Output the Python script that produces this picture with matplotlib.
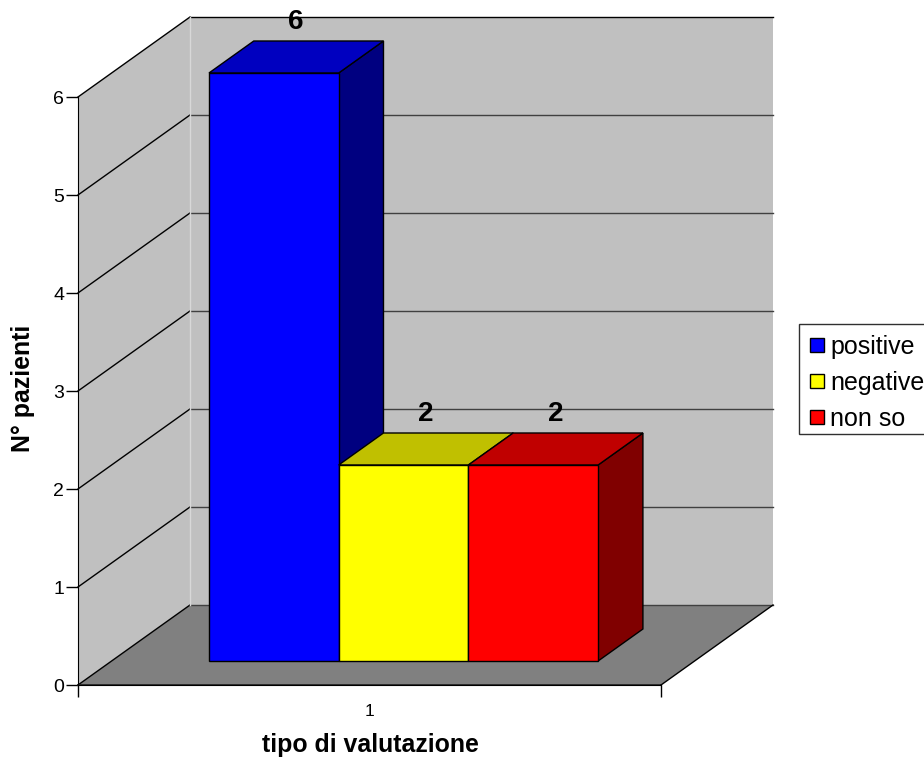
import matplotlib
matplotlib.use("Agg")
import matplotlib.pyplot as plt
from matplotlib.lines import Line2D
from matplotlib.patches import Polygon, Rectangle

plt.rcParams["font.family"] = ["Liberation Sans", "DejaVu Sans"]

# dati del grafico
categorie = ["positive", "negative", "non so"]
valori = [6, 2, 2]
colori_front = ["#0000ff", "#ffff00", "#ff0000"]
colori_top = ["#0000c0", "#c0c000", "#c00000"]
colori_side = ["#000080", "#808000", "#800000"]
y_ticks = [0, 1, 2, 3, 4, 5, 6]

# vettore di profondita' in unita' dati
DX = 112 / 583
DY = 80 / 98
Z_FRONT = 0.30
Z_BACK = 0.70
GAP = 0.167
LARGH = 0.2225


def proj(x, y, z=0):
    return (x + z * DX, y + z * DY)


def faccia(ax, punti, colore, lw=1.0, ec="black", zorder=3):
    ax.add_patch(Polygon([proj(*p) for p in punti], closed=True, fc=colore,
                         ec=ec, lw=lw, joinstyle="miter", zorder=zorder))


fig = plt.figure(figsize=(9.24, 7.63), dpi=100)
ax = fig.add_axes([0, 0, 1, 1])
ax.set_xlim(-78 / 583, (924 - 78) / 583)
ax.set_ylim((685 - 763) / 98, 685 / 98)

# pareti e pavimento
faccia(ax, [(0, 0, 0), (0, 0, 1), (0, 6, 1), (0, 6, 0)], "#c0c0c0", ec="none", zorder=1)
faccia(ax, [(0, 0, 1), (1, 0, 1), (1, 6, 1), (0, 6, 1)], "#c0c0c0", ec="none", zorder=1)
faccia(ax, [(0, 0, 0), (1, 0, 0), (1, 0, 1), (0, 0, 1)], "#808080", ec="none", zorder=1)

# griglia sulle pareti
for v in y_ticks:
    xa, ya = proj(0, v, 0)
    xb, yb = proj(0, v, 1)
    xc, yc = proj(1, v, 1)
    ax.plot([xa, xb], [ya, yb], color="black", lw=1.0, zorder=2)
    ax.plot([xb, xc], [yb, yc], color="black" if v == 6 else "#404040", lw=1.0, zorder=2)

# bordi del pavimento
xa, ya = proj(1, 0, 0)
xb, yb = proj(1, 0, 1)
ax.plot([0, 1], [0, 0], color="#202020", lw=1.2, zorder=2)
ax.plot([xa, xb], [ya, yb], color="black", lw=1.0, zorder=2)
xa, ya = proj(0, 0, 1)
ax.plot([xa, xa], [ya, proj(0, 6, 1)[1]], color="#d8d8d8", lw=1.0, zorder=2)

# barre 3D
for i, val in enumerate(valori):
    x0 = GAP + i * LARGH
    x1 = x0 + LARGH
    faccia(ax, [(x1, 0, Z_FRONT), (x1, 0, Z_BACK), (x1, val, Z_BACK), (x1, val, Z_FRONT)],
           colori_side[i], zorder=3 + i)
    faccia(ax, [(x0, val, Z_FRONT), (x1, val, Z_FRONT), (x1, val, Z_BACK), (x0, val, Z_BACK)],
           colori_top[i], zorder=3 + i)
    faccia(ax, [(x0, 0, Z_FRONT), (x1, 0, Z_FRONT), (x1, val, Z_FRONT), (x0, val, Z_FRONT)],
           colori_front[i], zorder=3 + i)
    cx, cy = proj((x0 + x1) / 2, val, Z_BACK)
    ax.annotate(str(val), (cx - 0.5 * DX * (Z_BACK - Z_FRONT), cy), xytext=(0, 13.5),
                textcoords="offset points", ha="center", va="center",
                fontsize=20, fontweight="bold", zorder=10)

# assi
for s in ["top", "right"]:
    ax.spines[s].set_visible(False)
ax.spines["left"].set_position(("data", 0))
ax.spines["left"].set_bounds(0, 6)
ax.spines["bottom"].set_position(("data", 0))
ax.spines["bottom"].set_bounds(0, 1)
ax.spines["left"].set_zorder(2)
ax.spines["bottom"].set_zorder(2)
ax.set_yticks(y_ticks)
ax.tick_params(axis="y", direction="out", length=8.5, width=1.0, pad=1.5, labelsize=14)
ax.set_xticks([0, 1])
ax.set_xticklabels(["", ""])
ax.tick_params(axis="x", direction="out", length=8.5, width=1.0)
ax.set_xticks([0.5], minor=True)
ax.set_xticklabels(["1"], minor=True)
ax.tick_params(axis="x", which="minor", length=0, pad=14, labelsize=12.5)

fig.text(370 / 924, 1 - 745 / 763, "tipo di valutazione", ha="center", va="center",
         fontsize=17.9, fontweight="bold")
fig.text(23 / 924, 1 - 388 / 763, "N° pazienti", ha="center", va="center", rotation=90,
         fontsize=17.9, fontweight="bold")

# riquadro della legenda, il bordo destro esce dalla figura
fig.add_artist(Rectangle((798.5 / 924, 1 - 434 / 763), 130 / 924, 110 / 763, fc="white",
                         ec="#303030", lw=1.0, transform=fig.transFigure, zorder=5))

# legenda
handles = [Line2D([], [], marker="s", ls="none", markersize=10.5, mfc=c, mec="black", mew=1.0)
           for c in colori_front]
leg = ax.legend(handles, categorie, loc="center left",
                bbox_to_anchor=(798.5 / 924, 1 - 383 / 763), borderaxespad=0,
                fontsize=18, frameon=False,
                handlelength=0.9, handletextpad=0.08,
                labelspacing=0.48, borderpad=0.28)
leg.set_zorder(20)
ax.set_zorder(6)
ax.patch.set_visible(False)

fig.savefig("out.png", dpi=100)
